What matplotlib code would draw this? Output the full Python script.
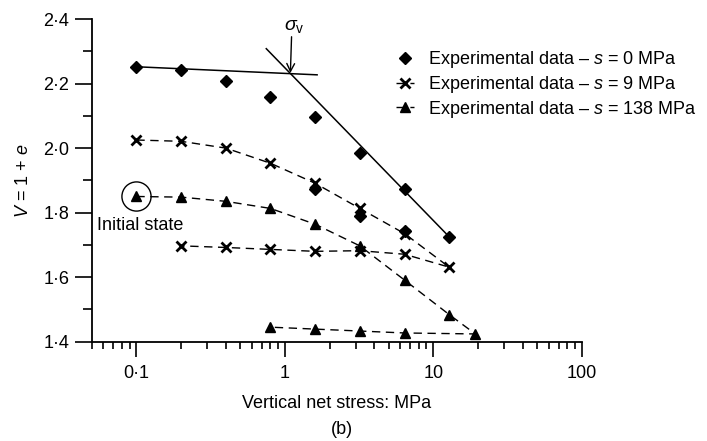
import matplotlib
matplotlib.use("Agg")
import matplotlib.pyplot as plt
from matplotlib.ticker import FixedLocator, LogLocator, NullFormatter, FixedFormatter

plt.rcParams["font.family"] = ["Liberation Sans", "DejaVu Sans"]
plt.rcParams["mathtext.fontset"] = "custom"
plt.rcParams["mathtext.rm"] = "Liberation Sans"
plt.rcParams["mathtext.it"] = "Liberation Sans:italic"
plt.rcParams["font.size"] = 13

# s = 0 MPa (diamonds)
s0_stress = [0.1, 0.2, 0.4, 0.8, 1.6, 3.2, 6.4, 12.8]
s0_v = [2.251, 2.243, 2.208, 2.158, 2.097, 1.984, 1.872, 1.725]
s0_extra_stress = [1.6, 3.2, 6.4]
s0_extra_v = [1.873, 1.789, 1.742]

# s = 9 MPa (crosses): loading then unloading
s9_stress = [0.1, 0.2, 0.4, 0.8, 1.6, 3.2, 6.4, 12.8, 6.4, 3.2, 1.6, 0.8, 0.4, 0.2]
s9_v = [2.025, 2.021, 2.000, 1.953, 1.891, 1.813, 1.735, 1.631,
        1.671, 1.682, 1.680, 1.686, 1.692, 1.697]

# s = 138 MPa (triangles): loading then unloading
s138_stress = [0.1, 0.2, 0.4, 0.8, 1.6, 3.2, 6.4, 12.8, 19.2, 6.4, 3.2, 1.6, 0.8]
s138_v = [1.850, 1.848, 1.835, 1.813, 1.764, 1.697, 1.591, 1.484, 1.424,
          1.427, 1.433, 1.439, 1.445]

# construction lines for yield stress
elastic_x = [0.1, 1.65]
elastic_v = [2.252, 2.227]
nc_x = [0.75, 12.8]
nc_v = [2.308, 1.725]
yield_x, yield_v = 1.09, 2.233

xticks = [0.1, 1, 10, 100]
xticklabels = ["0·1", "1", "10", "100"]
yticks = [1.4, 1.6, 1.8, 2.0, 2.2, 2.4]
yticklabels = ["1·4", "1·6", "1·8", "2·0", "2·2", "2·4"]

fig = plt.figure(figsize=(7.07, 4.41), dpi=100)
ax = fig.add_axes([0.1297, 0.2252, 0.6931, 0.7317])

dash = (0, (6, 4))
ax.plot(elastic_x, elastic_v, color="k", lw=1.1)
ax.plot(nc_x, nc_v, color="k", lw=1.1)

ax.plot(s0_stress, s0_v, "D", color="k", ms=6, ls="none",
        label="Experimental data – $s$ = 0 MPa", clip_on=False)
ax.plot(s0_extra_stress, s0_extra_v, "D", color="k", ms=6, ls="none")
ax.plot(s9_stress, s9_v, color="k", marker="x", ms=6.5, mew=2, lw=1, ls=dash,
        label="Experimental data – $s$ = 9 MPa", clip_on=False)
ax.plot(s138_stress, s138_v, color="k", marker="^", ms=7, lw=1, ls=dash,
        label="Experimental data – $s$ = 138 MPa", clip_on=False)

# initial state circle
ax.plot(s138_stress[0], s138_v[0], "o", ms=21, mfc="none", mec="k", mew=1,
        clip_on=False)
ax.text(0.054, 1.761, "Initial state", ha="left", va="center", fontsize=13)

ax.annotate("", xy=(yield_x, yield_v), xytext=(1.11, 2.345),
            arrowprops=dict(arrowstyle="->", color="k", lw=1,
                            shrinkA=0, shrinkB=0, mutation_scale=14))
ax.text(1.15, 2.376, r"$\sigma_\mathrm{v}$", ha="center", va="center",
        fontsize=14)

ax.set_xscale("log")
ax.set_xlim(0.05, 100)
ax.set_ylim(1.4, 2.4)
ax.xaxis.set_major_locator(FixedLocator(xticks))
ax.xaxis.set_major_formatter(FixedFormatter(xticklabels))
ax.xaxis.set_minor_locator(LogLocator(base=10, subs=range(2, 10)))
ax.xaxis.set_minor_formatter(NullFormatter())
ax.yaxis.set_major_locator(FixedLocator(yticks))
ax.yaxis.set_major_formatter(FixedFormatter(yticklabels))
ax.yaxis.set_minor_locator(FixedLocator([1.5, 1.7, 1.9, 2.1, 2.3]))

for side in ["top", "right"]:
    ax.spines[side].set_visible(False)
for side in ["left", "bottom"]:
    ax.spines[side].set_linewidth(1.3)
ax.tick_params(axis="x", which="major", length=11, width=1.2, labelsize=13, pad=6)
ax.tick_params(axis="x", which="minor", length=5, width=1.2)
ax.tick_params(axis="y", which="major", length=12, width=1.2, labelsize=13, pad=4)
ax.tick_params(axis="y", which="minor", length=6.5, width=1.2)

ax.set_xlabel("Vertical net stress: MPa", fontsize=13, labelpad=9)
ax.set_ylabel("$V$ = 1 + $e$", fontsize=13, labelpad=8)
fig.text(0.483, 1 - 430 / 441, "(b)", ha="center", va="center", fontsize=13)

ax.legend(loc="upper left", bbox_to_anchor=(0.56, 0.888),
          bbox_transform=fig.transFigure, frameon=False, fontsize=13,
          handlelength=1.0, handletextpad=0.75, labelspacing=0.2,
          borderpad=0, borderaxespad=0)

fig.savefig("out.png", dpi=100)
